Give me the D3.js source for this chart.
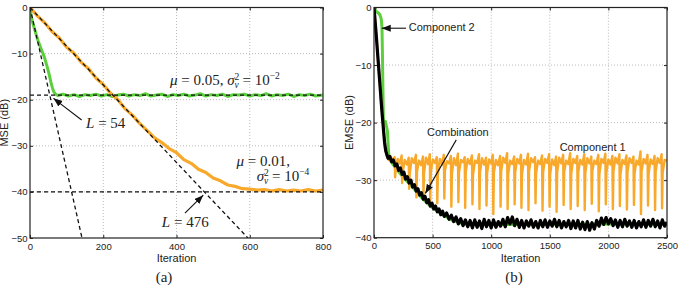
<!DOCTYPE html>
<html>
<head>
<meta charset="utf-8">
<script src="https://cdn.jsdelivr.net/npm/d3@7"></script>
<style>
  body { margin: 0; background: #fff; }
  svg text { font-family: "Liberation Sans", Arial, sans-serif; }
  .tick text { font-size: 9.5px; fill: #222; }
  .math { font-family: "Liberation Serif", "Times New Roman", serif; font-size: 15px; fill: #222; }
</style>
</head>
<body>
<svg id="fig" width="678" height="285"></svg>
<script>
// ---- panel (a): MSE, two step sizes ----
var ticksXA = [0, 200, 400, 600, 800];
var ticksYA = [0, -10, -20, -30, -40, -50];
var mseFast = [[0,0],[3,-1.8],[8,-3.5],[15,-5.4],[22,-7.2],[30,-8.9],[39,-10.7],[46,-12.6],[52,-14.4],[57,-16.2],[61,-17.4],[65,-18.3],[70,-18.8],[76,-19.1],
  [90,-18.8],[105,-19.2],[120,-18.9],[135,-19.3],[150,-18.9],[165,-19.1],[180,-18.8],[195,-19.2],[210,-18.9],[225,-19.3],[240,-19.0],[255,-18.8],[270,-19.2],
  [285,-18.9],[300,-19.1],[315,-18.7],[330,-19.2],[345,-19.0],[360,-18.8],[375,-19.3],[390,-18.9],[405,-19.1],[420,-18.8],[435,-19.2],[450,-19.0],[465,-18.7],
  [480,-19.2],[495,-18.9],[510,-19.1],[525,-18.8],[540,-19.3],[555,-18.9],[570,-19.0],[585,-18.8],[600,-19.2],[615,-18.9],[630,-19.1],[645,-18.7],[660,-19.2],
  [675,-18.9],[690,-19.1],[705,-18.8],[720,-19.3],[735,-18.9],[750,-19.1],[765,-18.8],[780,-19.2],[800,-19.0]];
var mseSlow = [[0,0],[20,-1.8],[40,-3.3],[60,-5.2],[80,-6.6],[100,-8.6],[120,-9.9],[140,-11.9],[160,-13.3],[180,-15.3],[200,-16.7],[220,-18.6],[240,-20.0],
  [260,-22.0],[280,-23.4],[300,-25.2],[320,-26.7],[340,-28.3],[360,-29.3],[380,-30.6],[400,-31.5],[420,-33.0],[440,-33.8],[460,-35.1],[480,-35.8],[500,-37.0],
  [520,-37.6],[540,-38.5],[560,-38.8],[580,-39.3],[600,-39.4],[620,-39.6],[640,-39.5],[660,-39.8],[680,-39.5],[700,-39.8],[720,-39.6],[740,-39.8],[760,-39.5],
  [780,-39.8],[800,-39.6]];
var tangentFast = [[0,0],[142,-50]];   // L = 54
var tangentSlow = [[0,0],[595,-50]];   // L = 476
var floorLevels = [-19, -40];

// ---- panel (b): EMSE of the components and the combination ----
var ticksXB = [0, 500, 1000, 1500, 2000, 2500];
var ticksYB = [0, -10, -20, -30, -40];
var emseComp2 = [[0,0],[10,-0.4],[25,-0.8],[40,-1.0],[51,-1.3],[62,-2.0],[68,-3.5],[72,-8],[76,-14],[80,-19.5],[88,-20.2],[98,-19.8],[108,-20.8],
  [115,-21.5],[120,-23.5],[126,-25.5],[135,-26.4],[160,-27.2],[200,-28.3],[250,-29.5],[300,-30.6],[350,-31.7],[400,-32.9],[450,-33.9],[500,-34.8],
  [550,-35.5],[600,-36.2],[650,-36.8],[700,-37.2],[750,-37.5],[800,-37.7],[900,-37.7],[1000,-37.7],[1500,-37.7],[2000,-37.6],[2500,-37.6]];
var emseComp1 = [[0,0],[20,-5],[40,-10.5],[60,-16],[80,-21],[95,-24.5],[110,-25.9],[125,-26.5],[140,-25.8],[160,-26.6],
  [176,-26.0],[180,-29.5],[185,-28.4],[202,-26.3],[220,-27.1],
  [236,-25.7],[240,-30.5],[245,-28.6],[262,-26.5],[280,-27.3],
  [296,-26.1],[300,-31.5],[305,-28.9],[322,-26.2],[340,-27.0],
  [358,-25.6],[362,-33.0],[367,-28.5],[384,-26.6],[402,-27.4],
  [418,-25.9],[422,-32.5],[427,-28.8],[444,-26.1],[462,-27.2],
  [476,-25.5],[480,-33.5],[485,-28.6],[502,-26.4],[520,-27.0],
  [536,-26.0],[540,-34.0],[545,-29.0],[562,-26.3],[580,-27.3],
  [596,-25.6],[600,-33.2],[605,-28.4],[622,-26.7],[640,-27.1],
  [656,-25.8],[660,-34.6],[665,-28.9],[682,-26.2],[700,-27.4],
  [716,-25.4],[720,-33.8],[725,-28.7],[742,-26.5],[760,-26.9],
  [774,-26.0],[778,-34.8],[783,-28.5],[800,-26.3],[818,-27.2],
  [836,-25.7],[840,-34.2],[845,-29.1],[862,-26.6],[880,-27.0],
  [896,-25.5],[900,-35.0],[905,-28.6],[922,-26.2],[940,-27.3],
  [956,-26.1],[960,-34.4],[965,-28.8],[982,-26.4],[1000,-27.1],
  [1014,-25.6],[1018,-35.9],[1023,-28.7],[1040,-26.5],[1058,-27.4],
  [1076,-25.8],[1080,-34.6],[1085,-28.5],[1102,-26.1],[1120,-27.0],
  [1136,-25.3],[1140,-35.0],[1145,-29.0],[1162,-26.6],[1180,-27.2],
  [1196,-25.9],[1200,-34.2],[1205,-28.6],[1222,-26.3],[1240,-27.1],
  [1254,-25.6],[1258,-34.8],[1263,-28.9],[1280,-26.5],[1298,-27.3],
  [1314,-25.4],[1318,-35.2],[1323,-28.4],[1340,-26.2],[1358,-26.9],
  [1374,-26.0],[1378,-34.0],[1383,-28.8],[1400,-26.6],[1418,-27.2],
  [1434,-25.7],[1438,-35.3],[1443,-28.6],[1460,-26.3],[1478,-27.0],
  [1494,-25.5],[1498,-34.6],[1503,-29.0],[1520,-26.4],[1538,-27.4],
  [1554,-25.9],[1558,-35.5],[1563,-28.7],[1580,-26.1],[1598,-27.1],
  [1614,-25.6],[1618,-34.3],[1623,-28.5],[1640,-26.6],[1658,-27.2],
  [1674,-25.3],[1678,-35.0],[1683,-28.9],[1700,-26.3],[1718,-27.0],
  [1734,-25.8],[1738,-34.5],[1743,-28.6],[1760,-26.5],[1778,-27.3],
  [1794,-25.5],[1798,-35.2],[1803,-28.8],[1820,-26.2],[1838,-27.1],
  [1854,-25.9],[1858,-34.1],[1863,-28.4],[1880,-26.6],[1898,-27.2],
  [1914,-25.6],[1918,-35.4],[1923,-29.0],[1940,-26.3],[1958,-27.0],
  [1974,-25.4],[1978,-34.2],[1983,-28.7],[2000,-26.4],[2018,-27.3],
  [2034,-25.8],[2038,-35.0],[2043,-28.5],[2060,-26.1],[2078,-27.1],
  [2094,-25.5],[2098,-34.5],[2103,-28.9],[2120,-26.5],[2138,-27.2],
  [2154,-25.7],[2158,-35.1],[2163,-28.6],[2180,-26.2],[2198,-27.0],
  [2214,-25.9],[2218,-34.3],[2223,-28.8],[2240,-26.6],[2258,-27.3],
  [2274,-25.0],[2278,-35.9],[2283,-28.5],[2300,-26.3],[2318,-27.1],
  [2334,-25.6],[2338,-34.4],[2343,-28.9],[2360,-26.4],[2378,-27.2],
  [2394,-25.8],[2398,-35.2],[2403,-28.6],[2420,-26.2],[2438,-27.0],
  [2454,-25.5],[2458,-34.9],[2463,-28.7],[2480,-26.5],[2500,-26.6]];
var emseComb = [[0,0],[10,-2.5],[20,-5],[30,-7.8],[40,-10.5],[50,-13.2],[60,-16],[70,-18.6],[80,-21],[90,-23.4],[100,-24.9],[110,-25.6],[120,-26.2],
  [135,-25.9],[150,-26.8],[165,-26.5],[180,-27.5],[195,-27.2],[210,-28.3],[225,-27.9],[240,-29.0],[255,-28.6],[270,-29.8],[285,-29.4],[300,-30.5],
  [315,-30.0],[330,-31.2],[345,-30.8],[360,-31.9],[375,-31.5],[390,-32.6],[405,-32.2],[420,-33.3],[435,-32.8],[450,-33.9],[465,-33.4],[480,-34.5],
  [495,-34.0],[510,-35.0],[525,-34.5],[540,-35.5],[555,-35.0],[570,-36.0],[585,-35.4],[600,-36.3],[620,-35.7],[640,-36.8],[660,-36.1],[680,-37.2],
  [700,-36.4],[720,-37.6],[740,-36.7],[760,-37.9],[780,-36.9],[800,-38.1],[820,-37.0],[840,-38.3],[860,-36.9],[880,-38.2],[900,-37.1],[920,-38.4],
  [940,-36.8],[960,-38.1],[980,-37.0],[1000,-38.3],[1020,-36.9],[1040,-38.2],[1060,-37.2],[1080,-38.0],[1100,-36.8],[1120,-38.1],[1140,-36.5],
  [1160,-37.6],[1180,-36.4],[1200,-37.9],[1220,-36.8],[1240,-38.2],[1260,-37.0],[1280,-38.3],[1300,-37.1],[1320,-38.0],[1340,-36.9],[1360,-38.2],
  [1380,-37.2],[1400,-38.3],[1420,-37.0],[1440,-38.1],[1460,-36.9],[1480,-38.2],[1500,-37.1],[1520,-38.0],[1540,-36.8],[1560,-38.1],[1580,-37.0],
  [1600,-38.3],[1620,-37.2],[1640,-38.1],[1660,-37.0],[1680,-38.4],[1700,-37.1],[1720,-38.3],[1740,-37.0],[1760,-38.5],[1780,-37.3],[1800,-38.6],
  [1820,-37.2],[1840,-38.7],[1860,-37.4],[1880,-38.5],[1900,-37.0],[1920,-38.0],[1940,-36.6],[1960,-37.7],[1980,-36.5],[2000,-37.6],[2020,-36.7],
  [2040,-37.9],[2060,-36.9],[2080,-38.2],[2100,-37.0],[2120,-38.1],[2140,-36.8],[2160,-38.0],[2180,-37.1],[2200,-38.2],[2220,-37.0],[2240,-38.3],
  [2260,-37.2],[2280,-38.1],[2300,-36.9],[2320,-38.2],[2340,-37.0],[2360,-38.0],[2380,-36.8],[2400,-38.1],[2420,-37.1],[2440,-38.3],[2460,-36.9],
  [2480,-38.0],[2500,-37.3]];

var GREEN = '#5ccf3c', ORANGE = '#f8a92b';

var svg = d3.select('#fig');

svg.append('defs').append('marker')
    .attr('id', 'arrow')
    .attr('markerUnits', 'userSpaceOnUse')
    .attr('markerWidth', 10).attr('markerHeight', 8)
    .attr('refX', 9).attr('refY', 3.5)
    .attr('orient', 'auto')
  .append('path')
    .attr('d', 'M0,0 L9,3.5 L0,7 Z')
    .attr('fill', '#111');

function panel(id, x, y, xt, yt, ylabel, ylabelX, tag, tagX){
  var g = svg.append('g');
  var x0 = x.range()[0], x1 = x.range()[1], y0 = y.range()[0], y1 = y.range()[1];

  g.append('clipPath').attr('id', 'clip-' + id)
    .append('rect').attr('x', x0).attr('y', y1).attr('width', x1 - x0).attr('height', y0 - y1);

  // dotted grid
  g.selectAll('.gx').data(xt.slice(1, -1)).enter().append('line')
      .attr('x1', function(d){ return x(d); }).attr('x2', function(d){ return x(d); })
      .attr('y1', y0).attr('y2', y1)
      .attr('stroke', '#aaa').attr('stroke-width', 0.8).attr('stroke-dasharray', '1,2');
  g.selectAll('.gy').data(yt.slice(1, -1)).enter().append('line')
      .attr('x1', x0).attr('x2', x1)
      .attr('y1', function(d){ return y(d); }).attr('y2', function(d){ return y(d); })
      .attr('stroke', '#aaa').attr('stroke-width', 0.8).attr('stroke-dasharray', '1,2');

  var fmt = d3.format('d');
  var ax = [
    g.append('g').attr('transform', 'translate(0,' + y0 + ')')
      .call(d3.axisBottom(x).tickValues(xt).tickSize(-3).tickPadding(5).tickFormat(fmt)),
    g.append('g').attr('transform', 'translate(' + x0 + ',0)')
      .call(d3.axisLeft(y).tickValues(yt).tickSize(-3).tickPadding(2.5).tickFormat(fmt)),
    g.append('g').attr('transform', 'translate(0,' + y1 + ')')
      .call(d3.axisTop(x).tickValues(xt).tickSize(-3).tickFormat('')),
    g.append('g').attr('transform', 'translate(' + x1 + ',0)')
      .call(d3.axisRight(y).tickValues(yt).tickSize(-3).tickFormat(''))
  ];
  ax.forEach(function(a){
    a.select('.domain').remove();
    a.selectAll('.tick line').attr('stroke', '#222');
  });

  g.append('text')
      .attr('x', (x0 + x1) / 2).attr('y', 262)
      .attr('text-anchor', 'middle').attr('font-size', 11).attr('fill', '#222')
      .text('Iteration');
  g.append('text')
      .attr('transform', 'translate(' + ylabelX + ',' + (y0 + y1) / 2 + ') rotate(-90)')
      .attr('text-anchor', 'middle').attr('font-size', 11).attr('fill', '#222')
      .text(ylabel);
  g.append('text')
      .attr('class', 'math')
      .attr('x', tagX).attr('y', 282)
      .attr('text-anchor', 'middle').style('font-size', '15px')
      .text(tag);

  var plot = g.append('g').attr('clip-path', 'url(#clip-' + id + ')');
  var frame = function(){
    g.append('rect')
      .attr('x', x0).attr('y', y1).attr('width', x1 - x0).attr('height', y0 - y1)
      .attr('fill', 'none').attr('stroke', '#222').attr('stroke-width', 1.2);
  };
  return {plot: plot, frame: frame, g: g};
}

function lineOf(x, y){
  return d3.line().x(function(d){ return x(d[0]); }).y(function(d){ return y(d[1]); });
}

function curve(sel, data, line, color, w){
  sel.append('path').datum(data)
      .attr('d', line)
      .attr('fill', 'none')
      .attr('stroke', color)
      .attr('stroke-width', w)
      .attr('stroke-linejoin', 'round');
}

function dashed(sel, data, line){
  sel.append('path').datum(data)
      .attr('d', line)
      .attr('fill', 'none')
      .attr('stroke', '#111')
      .attr('stroke-width', 1.3)
      .attr('stroke-dasharray', '4,3');
}

function arrow(sel, x, y, from, to){
  sel.append('line')
      .attr('x1', x(from[0])).attr('y1', y(from[1]))
      .attr('x2', x(to[0])).attr('y2', y(to[1]))
      .attr('stroke', '#111').attr('stroke-width', 1.1)
      .attr('marker-end', 'url(#arrow)');
}

// sigma_v^2 = 10^p with the sub/superscript stacked
function sigmaLabel(t, power){
  t.append('tspan').style('font-style', 'italic').text('σ');
  t.append('tspan').attr('dy', -5).style('font-size', '9.5px').text('2');
  t.append('tspan').attr('dx', -4.8).attr('dy', 8).style('font-size', '9.5px').style('font-style', 'italic').text('v');
  t.append('tspan').attr('dy', -3).text(' = 10');
  t.append('tspan').attr('dy', -5.5).style('font-size', '9.5px').text('−' + power);
}

// ---------- panel (a) ----------
var xA = d3.scaleLinear().domain([0, 800]).range([30, 323]);
var yA = d3.scaleLinear().domain([-50, 0]).range([238, 7.5]);
var pA = panel('a', xA, yA, ticksXA, ticksYA, 'MSE (dB)', 7.5, '(a)', 164);
var lineA = lineOf(xA, yA);

curve(pA.plot, mseFast, lineA, GREEN, 3);
curve(pA.plot, mseSlow, lineA, ORANGE, 3.2);
dashed(pA.plot, tangentFast, lineA);
dashed(pA.plot, tangentSlow, lineA);
floorLevels.forEach(function(v){
  dashed(pA.plot, [[0, v], [800, v]], lineA);
});
pA.frame();

var tA1 = pA.g.append('text').attr('class', 'math').attr('x', xA(382)).attr('y', yA(-16.8));
tA1.append('tspan').style('font-style', 'italic').text('μ');
tA1.append('tspan').text(' = 0.05, ');
sigmaLabel(tA1, 2);

var tA2 = pA.g.append('text').attr('class', 'math').attr('x', xA(564)).attr('y', yA(-34.4));
tA2.append('tspan').style('font-style', 'italic').text('μ');
tA2.append('tspan').text(' = 0.01,');
var tA3 = pA.g.append('text').attr('class', 'math').attr('x', xA(619)).attr('y', yA(-37.6));
sigmaLabel(tA3, 4);

var tL1 = pA.g.append('text').attr('class', 'math').attr('x', xA(153)).attr('y', yA(-26.1));
tL1.append('tspan').style('font-style', 'italic').text('L');
tL1.append('tspan').text(' = 54');
var tL2 = pA.g.append('text').attr('class', 'math').attr('x', xA(360)).attr('y', yA(-47.6));
tL2.append('tspan').style('font-style', 'italic').text('L');
tL2.append('tspan').text(' = 476');

arrow(pA.g, xA, yA, [141, -24.4], [64, -19.7]);
arrow(pA.g, xA, yA, [423, -44.6], [473, -40.7]);

// ---------- panel (b) ----------
var xB = d3.scaleLinear().domain([0, 2500]).range([374, 667]);
var yB = d3.scaleLinear().domain([-40, 0]).range([237.7, 7.5]);
var pB = panel('b', xB, yB, ticksXB, ticksYB, 'EMSE (dB)', 353, '(b)', 514);
var lineB = lineOf(xB, yB);

curve(pB.plot, emseComp2, lineB, GREEN, 3);
curve(pB.plot, emseComp1, lineB, ORANGE, 2.4);
curve(pB.plot, emseComb, lineB, '#000', 3.2);
pB.frame();

pB.g.append('text').attr('x', xB(296)).attr('y', yB(-4.1)).attr('font-size', 11).attr('fill', '#222').text('Component 2');
pB.g.append('text').attr('x', xB(452)).attr('y', yB(-22.3)).attr('font-size', 11).attr('fill', '#222').text('Combination');
pB.g.append('text').attr('x', xB(1584)).attr('y', yB(-24.9)).attr('font-size', 11).attr('fill', '#222').text('Component 1');

arrow(pB.g, xB, yB, [273, -3.6], [66, -3.6]);
arrow(pB.g, xB, yB, [702, -23.0], [438, -32.3]);
</script>
</body>
</html>
